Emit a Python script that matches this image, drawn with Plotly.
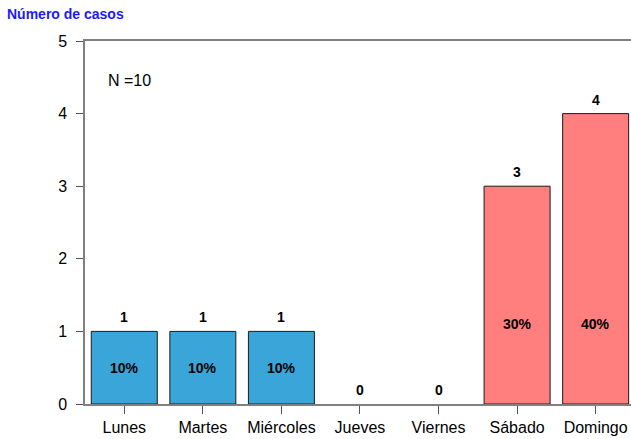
import plotly.graph_objects as go

days = ["Lunes", "Martes", "Miércoles", "Jueves", "Viernes", "Sábado", "Domingo"]
cases = [1, 1, 1, 0, 0, 3, 4]
pct_labels = ["10%", "10%", "10%", "", "", "30%", "40%"]
weekend = [False, False, False, False, False, True, True]
total_n = 10

BLUE = "#3AA5D8"
RED = "#FF7F7F"
colors = [RED if w else BLUE for w in weekend]
border_w = [1 if v > 0 else 0 for v in cases]

fig = go.Figure()
fig.add_trace(go.Bar(
    x=list(range(len(days))), y=cases,
    marker=dict(color=colors, line=dict(color="#1a1a1a", width=border_w)),
    width=0.84, showlegend=False, hoverinfo="skip",
))

annotations = []
for i, (v, p) in enumerate(zip(cases, pct_labels)):
    annotations.append(dict(x=i, y=v, xref="x", yref="y", text=f"<b>{v}</b>",
                            showarrow=False, yanchor="bottom", yshift=4,
                            font=dict(size=14, color="black")))
    if p:
        annotations.append(dict(x=i, y=min(v / 2, 1.1), xref="x", yref="y",
                                text=f"<b>{p}</b>", showarrow=False,
                                yanchor="middle",
                                font=dict(size=14, color="black")))

annotations.append(dict(x=0.038, y=0.89, xref="paper", yref="paper",
                        text=f"N ={total_n}", showarrow=False, xanchor="left",
                        yanchor="middle",
                        font=dict(size=16, color="black")))
annotations.append(dict(x=-0.147, y=1.074, xref="paper", yref="paper",
                        text="<b>Número de casos</b>", showarrow=False,
                        xanchor="left", yanchor="middle",
                        font=dict(size=14, color="#1a1aff")))

fig.update_layout(
    width=631, height=439,
    margin=dict(l=85, r=0, t=41, b=35),
    paper_bgcolor="white", plot_bgcolor="white",
    font=dict(family="Liberation Sans, Arial, sans-serif", size=16, color="black"),
    annotations=annotations,
    xaxis=dict(
        range=[-0.5, 6.45], tickmode="array", tickvals=list(range(len(days))),
        ticktext=days, showline=True, linecolor="#808080", linewidth=1.5,
        mirror=True, ticks="outside", ticklen=8, tickcolor="#555555",
        showgrid=False, zeroline=False, tickfont=dict(size=16),
    ),
    yaxis=dict(
        range=[0, 5], dtick=1, showline=True, linecolor="#808080", linewidth=1.5,
        ticks="outside", ticklen=7, tickcolor="#555555", showgrid=False,
        zeroline=False, tickfont=dict(size=16), ticklabelstandoff=6,
    ),
)

fig.write_html("out.html", config={"displayModeBar": False},
               post_script="document.body.style.margin='0';document.body.style.overflow='hidden';")
